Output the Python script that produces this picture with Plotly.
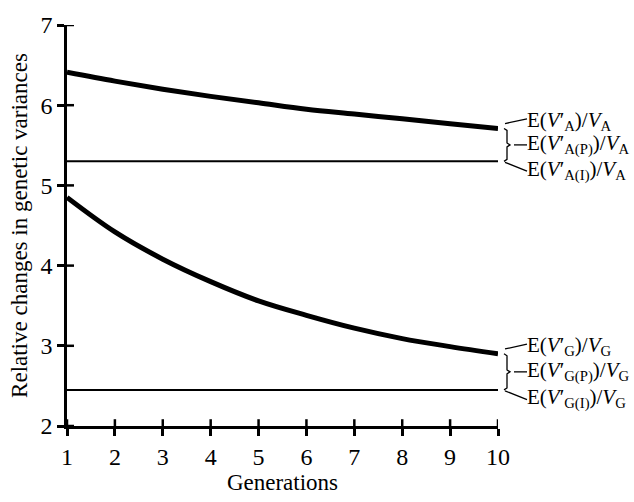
import plotly.graph_objects as go

generations = [1, 2, 3, 4, 5, 6, 7, 8, 9, 10]
va_ratio = [6.41, 6.30, 6.20, 6.11, 6.03, 5.95, 5.89, 5.83, 5.77, 5.71]
va_inbred = [5.30] * 10
vg_ratio = [4.85, 4.42, 4.08, 3.80, 3.56, 3.38, 3.22, 3.09, 2.99, 2.90]
vg_inbred = [2.45] * 10

x_ticks = list(range(1, 11))
y_ticks = [2, 3, 4, 5, 6, 7]

labels_A = ["E(<i>V</i>′<sub>A</sub>)/<i>V</i><sub>A</sub>",
            "E(<i>V</i>′<sub>A(P)</sub>)/<i>V</i><sub>A</sub>",
            "E(<i>V</i>′<sub>A(I)</sub>)/<i>V</i><sub>A</sub>"]
labels_G = ["E(<i>V</i>′<sub>G</sub>)/<i>V</i><sub>G</sub>",
            "E(<i>V</i>′<sub>G(P)</sub>)/<i>V</i><sub>G</sub>",
            "E(<i>V</i>′<sub>G(I)</sub>)/<i>V</i><sub>G</sub>"]

FONT = "Liberation Serif, Times New Roman, serif"
W, H = 634, 502
ML, MR, MT, MB = 67, 136, 15, 73
PW, PH = W - ML - MR, H - MT - MB
YMIN, YMAX = 2, 7
TICKLEN = 7

fig = go.Figure()
fig.add_trace(go.Scatter(x=generations, y=va_ratio, mode="lines", line=dict(color="black", width=5, shape="spline"), hoverinfo="skip"))
fig.add_trace(go.Scatter(x=generations, y=va_inbred, mode="lines", line=dict(color="black", width=2), hoverinfo="skip"))
fig.add_trace(go.Scatter(x=generations, y=vg_ratio, mode="lines", line=dict(color="black", width=5, shape="spline"), hoverinfo="skip"))
fig.add_trace(go.Scatter(x=generations, y=vg_inbred, mode="lines", line=dict(color="black", width=2), hoverinfo="skip"))


def pxx(px):
    return (px - ML) / PW


def pyv(v):
    return (v - YMIN) / (YMAX - YMIN)


def pyp(py):
    return (MT + PH - py) / PH


shapes = []
annotations = []

# inside half of the crossing tick marks
for t in x_ticks:
    shapes.append(dict(type="line", xref="x", yref="paper", x0=t, x1=t, y0=0, y1=TICKLEN / PH,
                       line=dict(color="black", width=2.5), layer="above"))
for t in y_ticks:
    shapes.append(dict(type="line", xref="paper", yref="y", x0=0, x1=TICKLEN / PW, y0=t, y1=t,
                       line=dict(color="black", width=2.5), layer="above"))


def bracket(v_top, v_bot, labels):
    yt = MT + PH - pyv(v_top) * PH
    yb = MT + PH - pyv(v_bot) * PH
    ym = (yt + yb) / 2
    xl = 527
    ly_top = yt - 8
    ly_bot = yb + 9
    lw = 1.3
    shapes.append(dict(type="line", xref="paper", yref="paper", x0=pxx(505), y0=pyp(yt - 5), x1=pxx(xl), y1=pyp(ly_top - 2), line=dict(color="black", width=lw)))
    shapes.append(dict(type="line", xref="paper", yref="paper", x0=pxx(505), y0=pyp(yb + 1), x1=pxx(xl), y1=pyp(ly_bot + 1), line=dict(color="black", width=lw)))
    bx = pxx(507)
    path = (f"M {pxx(504)},{pyp(yt)} L {bx},{pyp(yt + 2)} L {bx},{pyp(ym - 2)} "
            f"L {pxx(510)},{pyp(ym)} L {bx},{pyp(ym + 2)} L {bx},{pyp(yb - 2)} L {pxx(504)},{pyp(yb)}")
    shapes.append(dict(type="path", xref="paper", yref="paper", path=path, line=dict(color="black", width=lw)))
    shapes.append(dict(type="line", xref="paper", yref="paper", x0=pxx(514), y0=pyp(ym), x1=pxx(xl), y1=pyp(ym), line=dict(color="black", width=lw)))
    for lab, yy in zip(labels, [ly_top, ym, ly_bot]):
        annotations.append(dict(text=lab, xref="paper", yref="paper", x=pxx(xl - 2), y=pyp(yy),
                                xanchor="left", yanchor="middle", showarrow=False,
                                font=dict(family=FONT, size=21, color="black")))


bracket(va_ratio[-1], va_inbred[-1], labels_A)
bracket(vg_ratio[-1], vg_inbred[-1], labels_G)

axis_common = dict(showgrid=False, zeroline=False, showline=True, linecolor="black", linewidth=2.5,
                   ticks="outside", ticklen=TICKLEN, tickwidth=2.5, tickcolor="black",
                   tickfont=dict(family=FONT, size=24, color="black"))

fig.update_layout(
    width=W, height=H,
    margin=dict(l=ML, r=MR, t=MT, b=MB),
    paper_bgcolor="white", plot_bgcolor="white",
    showlegend=False,
    xaxis=dict(range=[1, 10], tickvals=x_ticks, ticktext=[str(t) for t in x_ticks],
               title=dict(text="Generations", font=dict(family=FONT, size=23, color="black"), standoff=4),
               **axis_common),
    yaxis=dict(range=[YMIN, YMAX], tickvals=y_ticks, ticktext=[str(t) for t in y_ticks],
               title=dict(text="Relative changes in genetic variances", font=dict(family=FONT, size=23, color="black"), standoff=7),
               **axis_common),
    shapes=shapes,
    annotations=annotations,
)

fig.write_html("out.html")
